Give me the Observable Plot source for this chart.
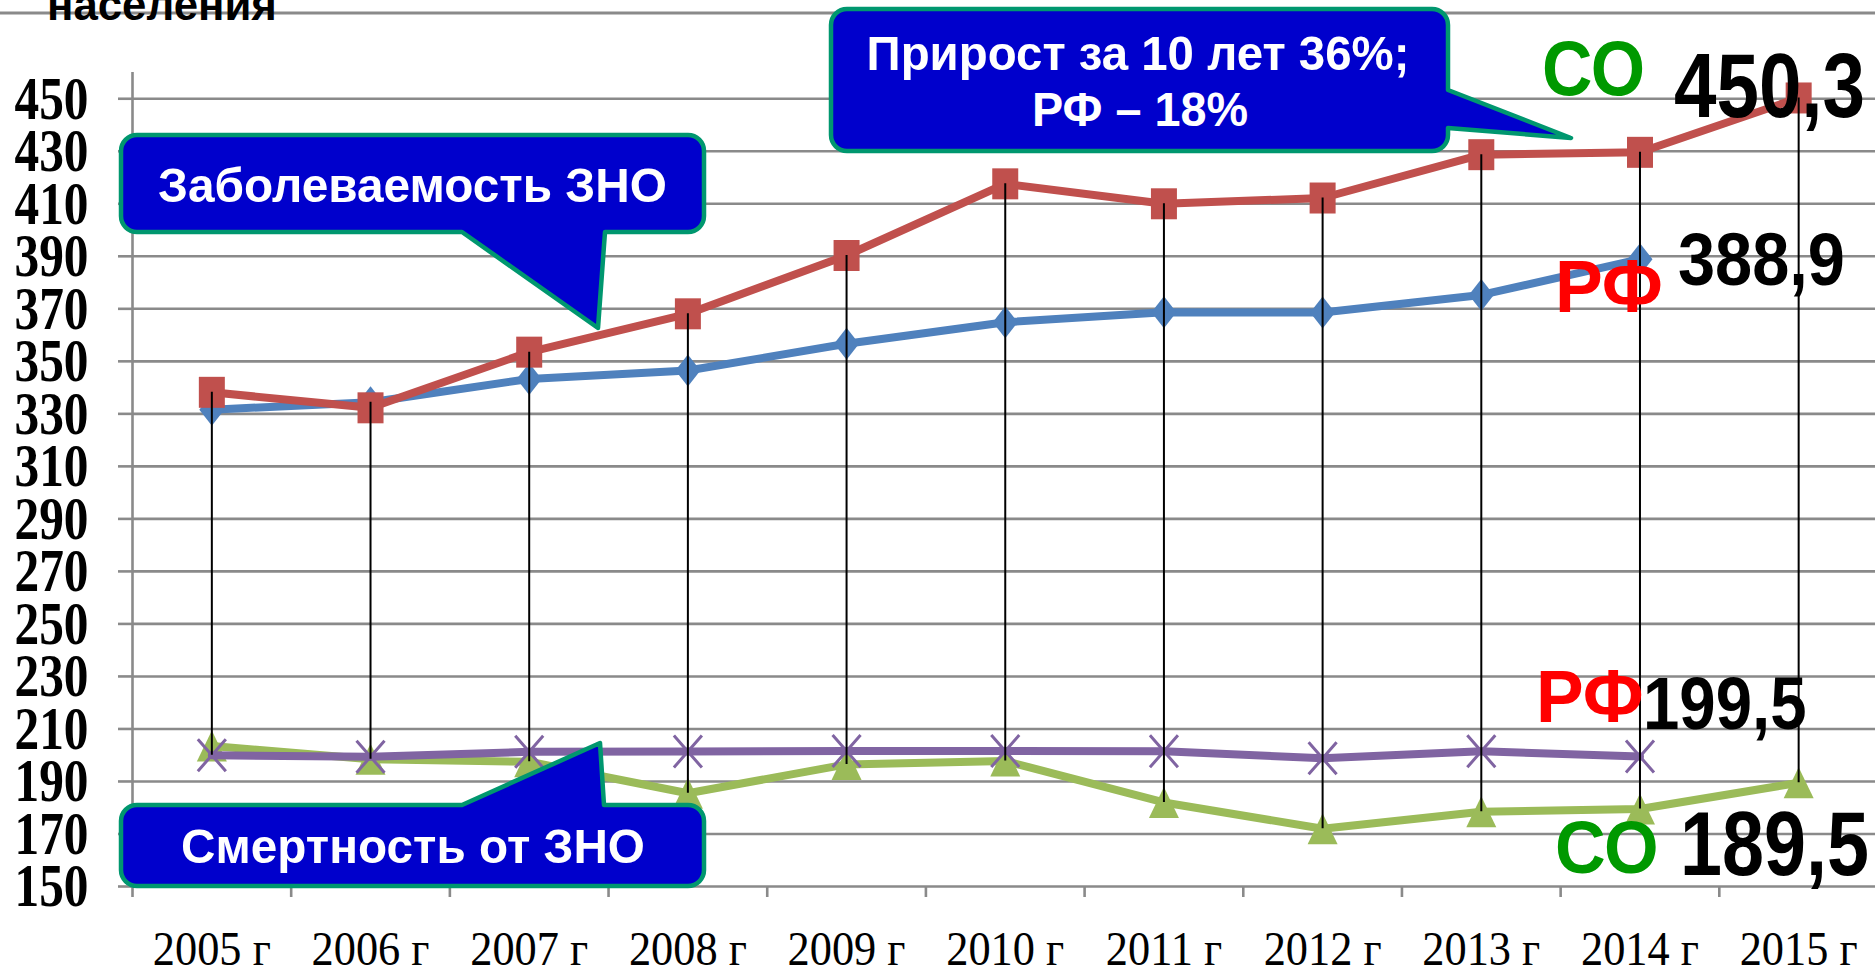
<!DOCTYPE html>
<html>
<head>
<meta charset="utf-8">
<script src="https://cdn.jsdelivr.net/npm/d3@7"></script>
<script src="https://cdn.jsdelivr.net/npm/@observablehq/plot@0.6"></script>
<style>
html, body { margin: 0; padding: 0; background: #fff; overflow: hidden; }
#chart svg { display: block; }
</style>
</head>
<body>
<div id="chart"></div>
<script>
// ---------- data ----------
const years = [2005, 2006, 2007, 2008, 2009, 2010, 2011, 2012, 2013, 2014, 2015];
const yTicks = [150, 170, 190, 210, 230, 250, 270, 290, 310, 330, 350, 370, 390, 410, 430, 450];
// Заболеваемость ЗНО, РФ (2005–2014)
const rfIncidence = [331.6, 334.4, 343.3, 346.5, 356.7, 364.9, 368.7, 368.6, 375.3, 388.9];
// Заболеваемость ЗНО, СО (2005–2015)
const soIncidence = [338.2, 332.3, 353.5, 368.1, 390.3, 417.6, 410.0, 412.2, 428.7, 429.6, 450.3];
// Смертность от ЗНО, СО (2005–2015)
const soMortality = [203.5, 198.5, 197.5, 185.5, 196.5, 197.8, 182.0, 172.0, 178.5, 179.5, 189.5];
// Смертность от ЗНО, РФ (2005–2014)
const rfMortality = [200.0, 199.4, 201.3, 201.4, 201.6, 201.6, 201.5, 198.8, 201.5, 199.5];
// value labels as printed on the chart
const endLabels = {soIncidence: "450,3", rfIncidence: "388,9", rfMortality: "199,5", soMortality: "189,5"};

// ---------- styles ----------
const GRID = "#8a8a8a";
const xDomain = [2004.5, 2015.5];
const diamond = {draw(c) { c.moveTo(0, -16); c.lineTo(12.5, 0); c.lineTo(0, 16); c.lineTo(-12.5, 0); c.closePath(); }};
const square = {draw(c) { c.moveTo(-13, -15.5); c.lineTo(13, -15.5); c.lineTo(13, 15.5); c.lineTo(-13, 15.5); c.closePath(); }};
const triangle = {draw(c) { c.moveTo(0, -15.5); c.lineTo(15, 15.5); c.lineTo(-15, 15.5); c.closePath(); }};
const cross = {draw(c) { c.moveTo(-14, -16); c.lineTo(14, 16); c.moveTo(14, -16); c.lineTo(-14, 16); }};

const series = [
  {name: "РФ заболеваемость", values: rfIncidence, color: "#4F81BD", symbol: diamond, filled: true},
  {name: "СО заболеваемость", values: soIncidence, color: "#C0504D", symbol: square, filled: true},
  {name: "СО смертность", values: soMortality, color: "#9BBB59", symbol: triangle, filled: true},
  {name: "РФ смертность", values: rfMortality, color: "#8064A2", symbol: cross, filled: false}
].map(s => ({...s, rows: s.values.map((v, i) => ({year: years[i], value: v, series: s.name}))}));

const allRows = series.flatMap(s => s.rows);
const hilo = years.map(y => {
  const vals = allRows.filter(r => r.year === y).map(r => r.value);
  return {year: y, low: d3.min(vals), high: d3.max(vals)};
});
const boundaries = [xDomain[0], ...years.slice(0, -1).map(y => y + 0.5)];

const chart = Plot.plot({
  width: 1875,
  height: 975,
  marginLeft: 132,
  marginRight: 0,
  marginTop: 72,
  marginBottom: 89,
  style: {background: "#fff", fontFamily: "Liberation Sans, Arial, sans-serif", overflow: "visible"},
  x: {domain: xDomain, range: [132, 1877.5]},
  y: {domain: [150, 460]},
  marks: [
    Plot.gridY({ticks: yTicks, stroke: GRID, strokeOpacity: 1, strokeWidth: 2.6}),
    Plot.axisY({ticks: yTicks, tickSize: 14, tickPadding: 30, stroke: GRID, strokeWidth: 2.6, color: "#000",
      fontSize: 62, fontWeight: "bold", fontFamily: "Liberation Serif, Times New Roman, serif", label: null}),
    Plot.ruleX([xDomain[0]], {stroke: GRID, strokeWidth: 2.6}),
    Plot.axisX({ticks: boundaries, tickSize: 11, stroke: GRID, strokeWidth: 2.6, tickFormat: () => "", label: null}),
    Plot.axisX({ticks: years, tickSize: 0, tickPadding: 44, tickFormat: d => `${d} г`, color: "#000",
      fontSize: 49, fontFamily: "Liberation Serif, Times New Roman, serif", label: null}),
    ...series.flatMap(s => [
      Plot.line(s.rows, {x: "year", y: "value", stroke: s.color, strokeWidth: 8, strokeLinejoin: "round"}),
      Plot.dot(s.rows, {x: "year", y: "value", symbol: s.symbol,
        fill: s.filled ? s.color : "none", stroke: s.filled ? "none" : s.color, strokeWidth: 3})
    ]),
    Plot.ruleX(hilo, {x: "year", y1: "low", y2: "high", stroke: "#000", strokeWidth: 2})
  ]
});

document.getElementById("chart").append(chart);
const svg = d3.select(chart.tagName.toLowerCase() === "svg" ? chart : chart.querySelector("svg"));

// ---------- annotations ----------
const callouts = [
  {box: [121, 135, 704, 232], tail: {side: "bottom", a: 605, b: 462, tip: [598, 328]}},
  {box: [121, 805, 704, 886], tail: {side: "top", a: 462, b: 604, tip: [600, 743]}},
  {box: [831, 9, 1448, 151], tail: {side: "right", a: 90, b: 128, tip: [1571, 138]}}
];
const labels = [
  {text: "населения", x: 47, y: 20, width: 230, size: 44, fill: "#000"},
  {text: "Заболеваемость ЗНО", x: 412.5, y: 202, width: 509, size: 49, fill: "#fff", anchor: "middle"},
  {text: "Смертность от ЗНО", x: 413, y: 863, width: 464, size: 49, fill: "#fff", anchor: "middle"},
  {text: "Прирост за 10 лет 36%;", x: 1138, y: 70, width: 543, size: 49, fill: "#fff", anchor: "middle"},
  {text: "РФ – 18%", x: 1140, y: 126, width: 216, size: 49, fill: "#fff", anchor: "middle"},
  {text: "СО", x: 1542, y: 95, width: 103, size: 77, fill: "#009900"},
  {text: endLabels.soIncidence, x: 1674, y: 117, width: 191, size: 91, fill: "#000"},
  {text: "РФ", x: 1555, y: 312, width: 108, size: 75, fill: "#FF0000"},
  {text: endLabels.rfIncidence, x: 1678, y: 285, width: 167, size: 74.5, fill: "#000"},
  {text: "РФ", x: 1536, y: 722, width: 107.6, size: 74.5, fill: "#FF0000"},
  {text: endLabels.rfMortality, x: 1643, y: 729, width: 163.6, size: 74.5, fill: "#000"},
  {text: "СО", x: 1555, y: 873, width: 103.5, size: 74.5, fill: "#009900"},
  {text: endLabels.soMortality, x: 1680, y: 875, width: 189, size: 91, fill: "#000"}
];

function calloutPath([x0, y0, x1, y1], tail, r = 16) {
  const p = d3.path();
  p.moveTo(x0 + r, y0);
  if (tail.side === "top") { p.lineTo(tail.a, y0); p.lineTo(tail.tip[0], tail.tip[1]); p.lineTo(tail.b, y0); }
  p.lineTo(x1 - r, y0);
  p.arcTo(x1, y0, x1, y0 + r, r);
  if (tail.side === "right") { p.lineTo(x1, tail.a); p.lineTo(tail.tip[0], tail.tip[1]); p.lineTo(x1, tail.b); }
  p.lineTo(x1, y1 - r);
  p.arcTo(x1, y1, x1 - r, y1, r);
  if (tail.side === "bottom") { p.lineTo(tail.a, y1); p.lineTo(tail.tip[0], tail.tip[1]); p.lineTo(tail.b, y1); }
  p.lineTo(x0 + r, y1);
  p.arcTo(x0, y1, x0, y1 - r, r);
  p.lineTo(x0, y0 + r);
  p.arcTo(x0, y0, x0 + r, y0, r);
  p.closePath();
  return p.toString();
}

const layer = svg.append("g").attr("class", "annotations");
layer.append("line").attr("x1", 0).attr("x2", 1875).attr("y1", 13).attr("y2", 13)
  .attr("stroke", GRID).attr("stroke-width", 3);
for (const c of callouts) {
  layer.append("path").attr("d", calloutPath(c.box, c.tail))
    .attr("fill", "#0000CC").attr("stroke", "#00976F").attr("stroke-width", 4.5).attr("stroke-linejoin", "round");
}
for (const l of labels) {
  const t = layer.append("text")
    .attr("x", 0).attr("y", 0)
    .attr("text-anchor", l.anchor || "start")
    .attr("font-family", "Liberation Sans, Arial, sans-serif")
    .attr("font-weight", "bold")
    .attr("font-size", l.size)
    .attr("fill", l.fill)
    .text(l.text);
  const w = t.node().getComputedTextLength() || l.width;
  t.attr("transform", `translate(${l.x},${l.y}) scale(${l.width / w},1)`);
}

// squeeze axis labels horizontally like the reference (keep their em-based offsets)
function squeeze(sel, s) {
  sel.each(function () {
    const t = d3.select(this);
    const tr = t.attr("transform") || "";
    const xa = t.attr("x");
    let pre = "";
    if (xa != null && /^-?[\d.]+$/.test(xa)) { pre = ` translate(${xa},0)`; t.attr("x", null); }
    t.attr("transform", `${tr}${pre} scale(${s},1)`);
  });
}
function fitGroup(selector, sample, target) {
  const sel = svg.selectAll(selector).filter(function () { return this.textContent.length > 0; });
  let w = 0;
  sel.each(function () { if (this.textContent === sample) w = this.getComputedTextLength(); });
  if (w > 0) squeeze(sel, target / w);
}
fitGroup('g[aria-label="y-axis tick label"] text', "450", 74);
fitGroup('g[aria-label="x-axis tick label"] text', "2005 г", 118);
</script>
</body>
</html>
